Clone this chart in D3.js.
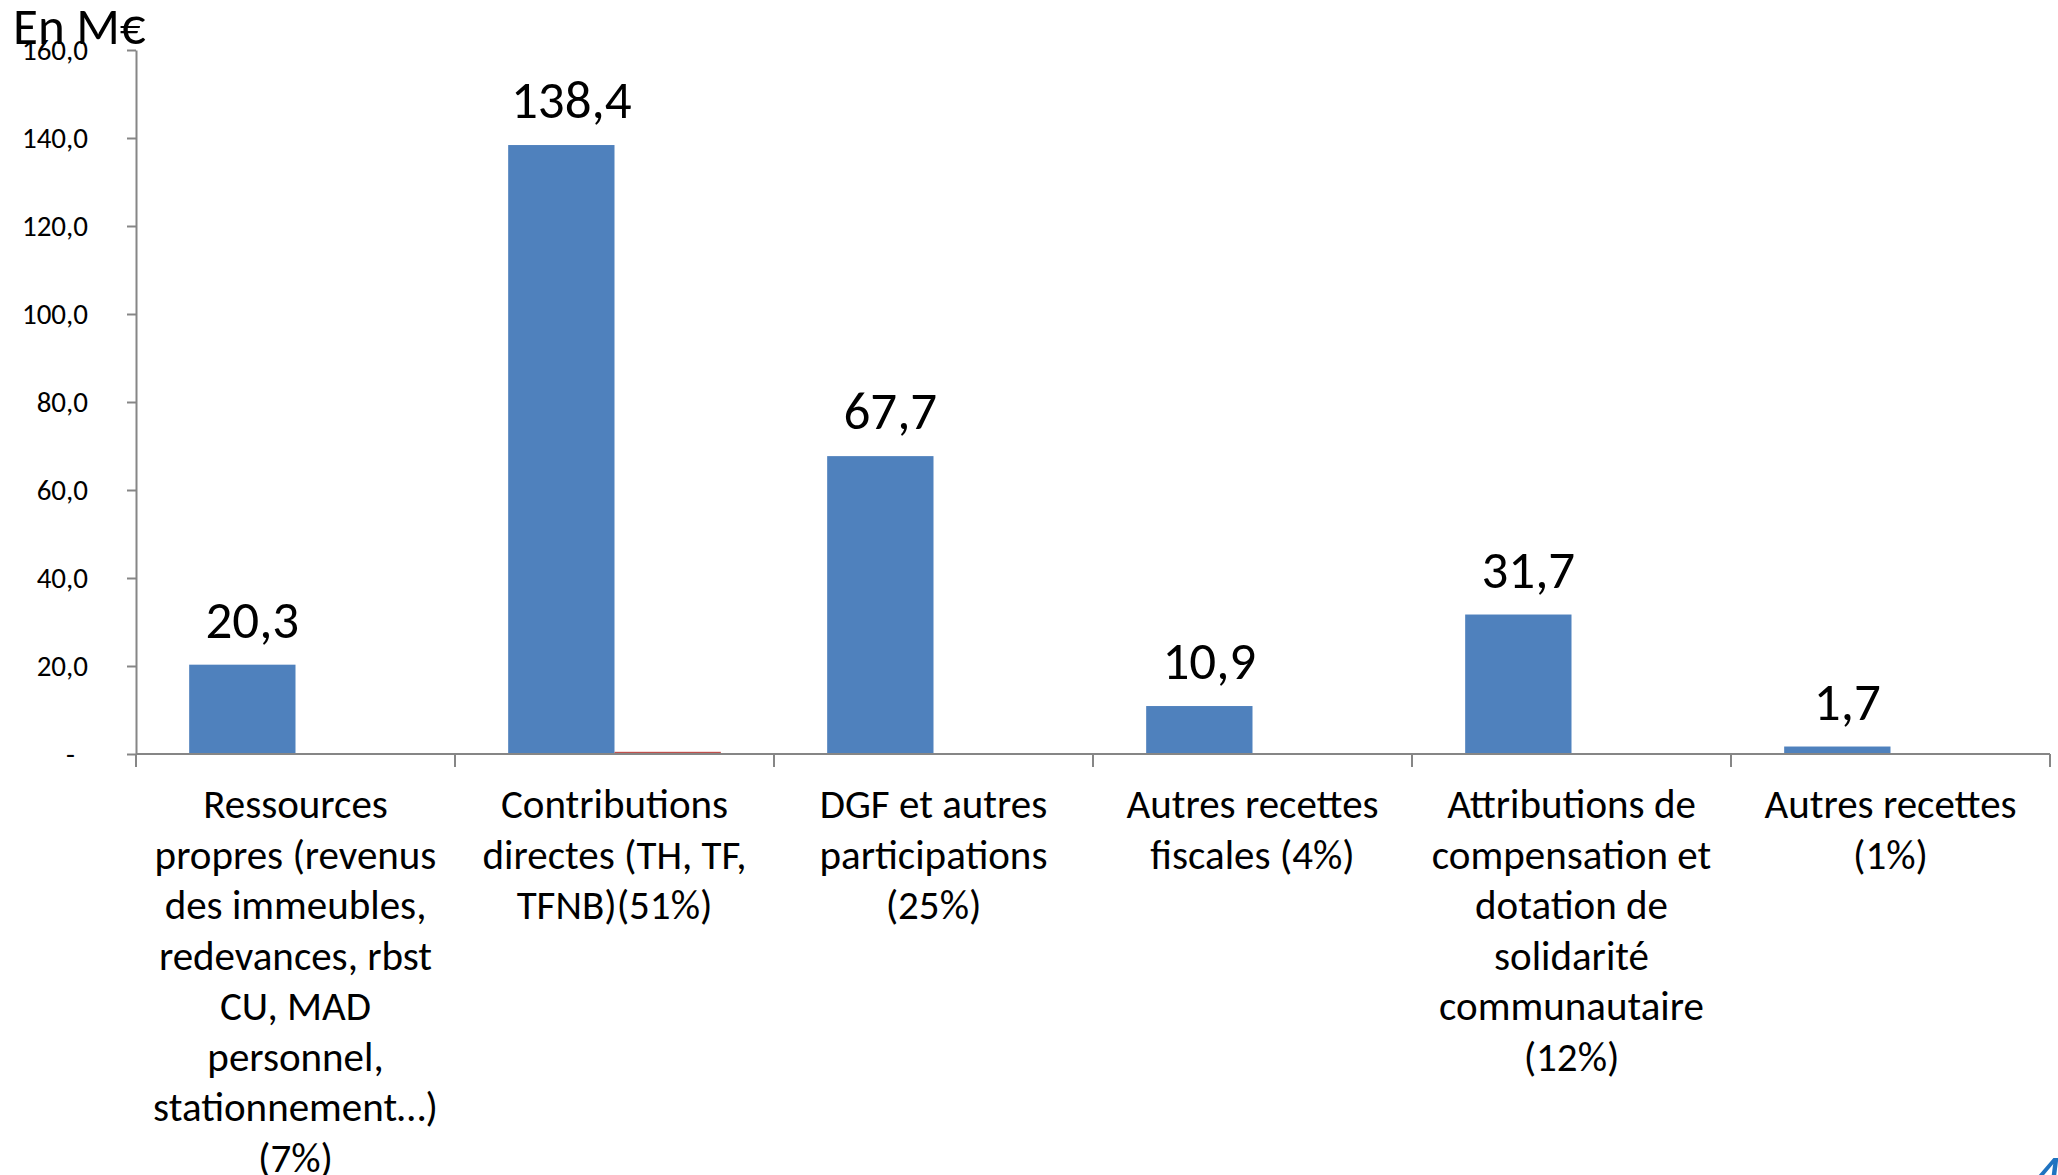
<!DOCTYPE html>
<html>
<head>
<meta charset="utf-8">
<script src="https://cdn.jsdelivr.net/npm/d3@7"></script>
<style>
  body { margin: 0; background: #fff; }
  text { font-family: Carlito, Calibri, Lato, sans-serif; fill: #000; }
</style>
</head>
<body>
<div id="barchart"></div>
<script>
// categories, split in lines like on the slide
const categories = ["Ressources", "Contributions", "DGF", "Autres fiscales", "Attributions", "Autres recettes"]
const catLines = [
  ["Ressources", "propres (revenus", "des immeubles,", "redevances, rbst", "CU, MAD", "personnel,", "stationnement…)", "(7%)"],
  ["Contributions", "directes (TH, TF,", "TFNB)(51%)"],
  ["DGF et autres", "participations", "(25%)"],
  ["Autres recettes", "fiscales (4%)"],
  ["Attributions de", "compensation et", "dotation de", "solidarité", "communautaire", "(12%)"],
  ["Autres recettes", "(1%)"]
]
const serie1 = [20.3, 138.4, 67.7, 10.9, 31.7, 1.7]
const serie2 = [0, 0.5, 0.2, 0, 0, 0]
const yTicks = [0, 20, 40, 60, 80, 100, 120, 140, 160]

let margin = {top: 50, right: 8, bottom: 421, left: 136},
    width = 2058 - margin.left - margin.right,
    height = 1175 - margin.top - margin.bottom;

let svg = d3.select('#barchart').append('svg')
    .attr('width', 2058)
    .attr('height', 1175)
let chart = svg.append('g')
    .attr('transform', "translate(" + margin.left + "," + margin.top + ")");

var x = d3.scaleBand()
  .domain(categories)
  .range([0, width])
  .padding(0)

var xSub = d3.scaleBand()
  .domain(["s1", "s2"])
  .range([0, x.bandwidth()])
  .paddingInner(0)
  .paddingOuter(0.5)

var y = d3.scaleLinear()
  .domain([0, 160])
  .range([height, 0])

var color = {s1: "#4F81BD", s2: "#C0504D"}

let data = categories.map(function(c, i) { return {cat: c, s1: serie1[i], s2: serie2[i]} })

// bars
chart.append("g")
  .selectAll("g")
  .data(data)
  .enter().append("g")
    .attr("transform", function(d) { return "translate(" + x(d.cat) + ",0)" })
  .selectAll("rect")
  .data(function(d) { return ["s1", "s2"].map(function(k) { return {key: k, value: d[k]} }) })
  .enter().append("rect")
    .attr("x", function(d) { return xSub(d.key) })
    .attr("y", function(d) { return y(d.value) })
    .attr("width", xSub.bandwidth())
    .attr("height", function(d) { return height - y(d.value) })
    .attr("fill", function(d) { return color[d.key] })

// y axis
let fmt = function(d) { return d === 0 ? "-" : d3.format(".1f")(d).replace(".", ",") }
let yAxis = chart.append("g")
  .call(d3.axisLeft(y).tickValues(yTicks).tickSize(9).tickSizeOuter(0).tickFormat(fmt))
yAxis.selectAll("path, line").attr("stroke", "#868686").attr("stroke-width", 2)
yAxis.selectAll("text")
  .attr("x", -48)
  .style("font-size", "29px")
  .style("font-family", "Carlito, Calibri, Lato, sans-serif")
  .attr("fill", "#000")
yAxis.selectAll("text").filter(function(d) { return d === 0 }).attr("x", -61)

// x axis with ticks at category boundaries
let xAxis = chart.append("g").attr("transform", "translate(0," + height + ")")
xAxis.append("line")
  .attr("x1", 0).attr("x2", width)
  .attr("stroke", "#868686").attr("stroke-width", 2)
let bounds = categories.map(function(c) { return x(c) }).concat([x.range()[1]])
xAxis.selectAll(".tk")
  .data(bounds)
  .enter().append("line")
    .attr("class", "tk")
    .attr("x1", function(d) { return d }).attr("x2", function(d) { return d })
    .attr("y1", 0).attr("y2", 13)
    .attr("stroke", "#868686").attr("stroke-width", 2)

// category labels
chart.append("g")
  .selectAll("text")
  .data(data)
  .enter().append("text")
    .attr("text-anchor", "middle")
    .style("font-size", "41px")
    .attr("transform", function(d) { return "translate(" + (x(d.cat) + x.bandwidth() / 2) + "," + (height + 64) + ")" })
  .selectAll("tspan")
  .data(function(d, i) { return catLines[i] })
  .enter().append("tspan")
    .attr("x", 0)
    .attr("y", function(d, j) { return j * 50.5 })
    .text(function(d) { return d })

// value labels
chart.append("g")
  .selectAll("text")
  .data(data)
  .enter().append("text")
    .attr("text-anchor", "middle")
    .attr("x", function(d) { return x(d.cat) + xSub("s1") + xSub.bandwidth() / 2 + 10 })
    .attr("y", function(d) { return y(d.s1) - 27 })
    .style("font-size", "53px")
    .text(function(d) { return d3.format(".1f")(d.s1).replace(".", ",") })

// unit title
svg.append("text").attr("x", 13).attr("y", 44).style("font-size", "51px").text("En M€")

// slide page number, cut by the bottom edge
svg.append("text").attr("x", 2028).attr("y", 1200)
  .style("font-size", "66px").style("font-style", "italic")
  .style("fill", "#1F73C0").text("4")
</script>
</body>
</html>
